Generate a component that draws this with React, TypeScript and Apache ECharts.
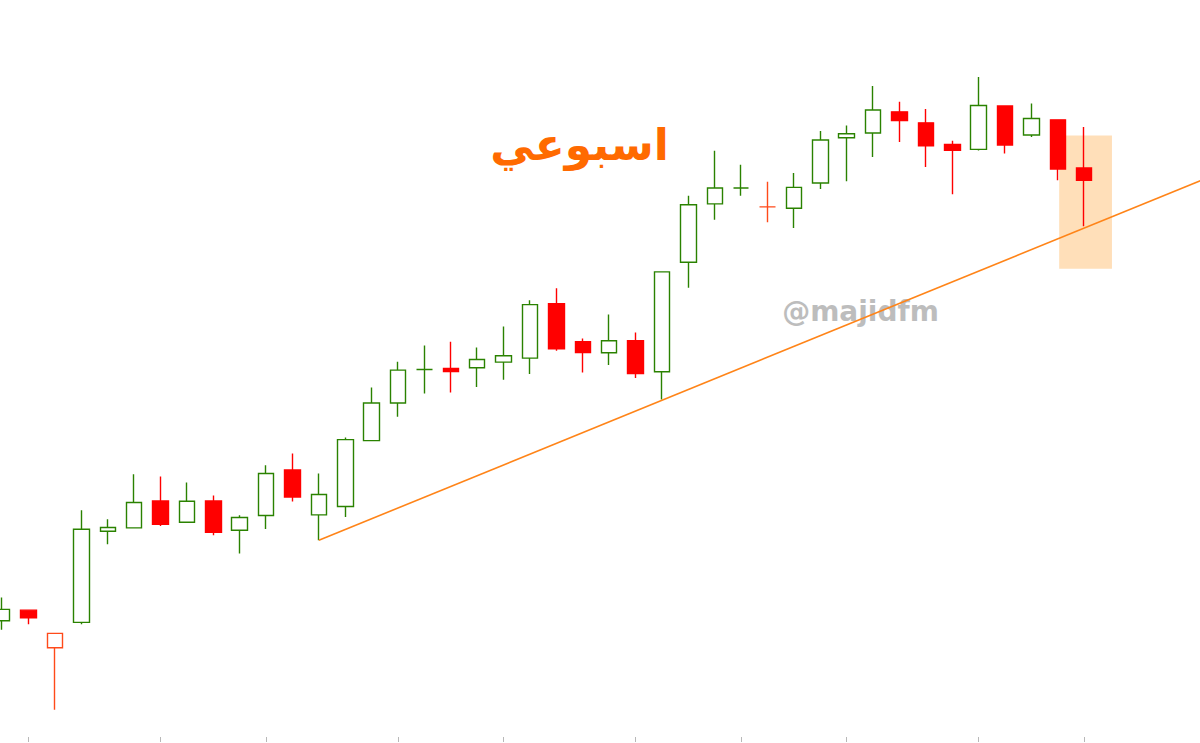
import React, { useEffect, useRef } from "react";
import * as echarts from "echarts";

// Weekly candles: [open, close, low, high]
const candles: number[][] = [
  [25.82, 26.39, 25.37, 26.99],
  [26.35, 25.97, 25.64, 26.35],
  [24.47, 25.19, 21.37, 25.19],
  [25.74, 30.4, 25.64, 31.35],
  [30.3, 30.49, 29.65, 30.9],
  [30.47, 31.74, 30.47, 33.15],
  [31.82, 30.65, 30.57, 33.04],
  [30.75, 31.8, 30.75, 32.74],
  [31.82, 30.25, 30.1, 32.09],
  [30.35, 30.99, 29.19, 31.1],
  [31.09, 33.19, 30.42, 33.6],
  [33.37, 32.02, 31.79, 34.19],
  [31.12, 32.14, 29.85, 33.19],
  [31.54, 34.89, 31.02, 34.99],
  [34.84, 36.72, 34.84, 37.5],
  [36.72, 38.37, 36.04, 38.79],
  [38.4, 38.4, 37.2, 39.6],
  [38.45, 38.3, 37.25, 39.79],
  [38.49, 38.9, 37.52, 39.5],
  [38.77, 39.09, 37.89, 40.55],
  [38.97, 41.65, 38.17, 41.87],
  [41.7, 39.44, 39.34, 42.47],
  [39.79, 39.25, 38.25, 39.95],
  [39.24, 39.84, 38.62, 41.15],
  [39.84, 38.2, 37.97, 40.25],
  [38.29, 43.29, 36.9, 43.29],
  [43.77, 46.65, 42.49, 47.1],
  [46.69, 47.49, 45.9, 49.35],
  [47.49, 47.49, 47.1, 48.65],
  [46.54, 46.54, 45.77, 47.8],
  [46.47, 47.52, 45.49, 48.24],
  [47.74, 49.89, 47.44, 50.34],
  [50.0, 50.2, 47.82, 50.62],
  [50.24, 51.39, 49.04, 52.6],
  [51.3, 50.87, 49.79, 51.8],
  [50.75, 49.6, 48.54, 51.44],
  [49.67, 49.37, 47.17, 49.85],
  [49.42, 51.62, 49.37, 53.04],
  [51.59, 49.64, 49.22, 51.59],
  [50.14, 50.97, 50.04, 51.72],
  [50.9, 48.44, 47.87, 50.9],
  [48.49, 47.87, 45.57, 50.54],
];
const totalSlots = 46;
const categories: string[] = Array.from({ length: totalSlots }, (_, i) => "W" + (i + 1));
const tickIndices: number[] = [1, 6, 10, 15, 19, 24, 28, 32, 37, 41];
// candles drawn in orange-red (close below previous close)
const orangeIdx: number[] = [2, 29];
const trendLine: number[][] = [
  [12, 29.85],
  [45.5, 47.91],
];
const highlightX: number[] = [40.05, 42.05];
const highlightY: number[] = [43.45, 50.12];
const yMin = 20;
const yMax = 56.9;

const GREEN = "#2a8200";
const RED = "#ff0000";
const ORANGE_RED = "#ff4a1a";

export default function App() {
  const ref = useRef<HTMLDivElement>(null);
  useEffect(() => {
    if (!ref.current) return;
    const chart = echarts.init(ref.current, null, { renderer: "svg" });
    const data = candles.map((c, i) => {
      if (orangeIdx.includes(i)) {
        return {
          value: c,
          itemStyle: {
            color: "#ffffff",
            color0: ORANGE_RED,
            borderColor: ORANGE_RED,
            borderColor0: ORANGE_RED,
          },
        };
      }
      return { value: c };
    });
    chart.setOption({
      animation: false,
      backgroundColor: "#ffffff",
      grid: { left: 0, right: 0, top: 0, bottom: 6, containLabel: false },
      xAxis: [
        {
          type: "category",
          data: categories,
          boundaryGap: true,
          axisLine: { show: false },
          axisLabel: { show: false },
          axisTick: {
            show: true,
            alignWithLabel: true,
            length: 5,
            interval: (idx: number) => tickIndices.includes(idx),
            lineStyle: { color: "#b8b8b8", width: 1 },
          },
          splitLine: { show: false },
        },
        {
          type: "value",
          min: -0.5,
          max: totalSlots - 0.5,
          show: false,
        },
      ],
      yAxis: {
        type: "value",
        min: yMin,
        max: yMax,
        show: false,
        splitLine: { show: false },
      },
      graphic: [
        {
          type: "text",
          x: 871.5,
          y: 311,
          z: 0,
          style: {
            text: "@majidfm",
            fill: "#bdbdbd",
            font: "bold 28px 'DejaVu Sans'",
            align: "center",
            verticalAlign: "middle",
          },
        },
        {
          type: "text",
          x: 590.5,
          y: 144,
          z: 10,
          style: {
            text: "اسبوعي",
            fill: "#ff6a00",
            font: "bold 44px 'DejaVu Sans'",
            align: "center",
            verticalAlign: "middle",
          },
        },
      ],
      series: [
        {
          type: "candlestick",
          xAxisIndex: 0,
          yAxisIndex: 0,
          barWidth: 16,
          z: 2,
          data,
          itemStyle: {
            color: "#ffffff",
            color0: RED,
            borderColor: GREEN,
            borderColor0: RED,
            borderWidth: 1.4,
          },
        },
        {
          type: "line",
          xAxisIndex: 1,
          yAxisIndex: 0,
          z: 5,
          data: [],
          markArea: {
            silent: true,
            itemStyle: { color: "rgba(255,165,60,0.36)" },
            data: [
              [
                { coord: [highlightX[0], highlightY[1]] },
                { coord: [highlightX[1], highlightY[0]] },
              ],
            ],
          },
        },
        {
          type: "line",
          xAxisIndex: 1,
          yAxisIndex: 0,
          z: 6,
          data: trendLine,
          symbol: "none",
          clip: false,
          lineStyle: { color: "#ff8418", width: 1.6 },
        },
      ],
    });
    return () => chart.dispose();
  }, []);
  return (
    <div
      style={{
        position: "absolute",
        left: 0,
        top: 0,
        width: 1200,
        height: 743,
        overflow: "hidden",
        background: "#ffffff",
      }}
    >
      <div
        ref={ref}
        style={{ position: "absolute", left: -11.5, top: 0, width: 1213.5, height: 743 }}
      />
    </div>
  );
}
